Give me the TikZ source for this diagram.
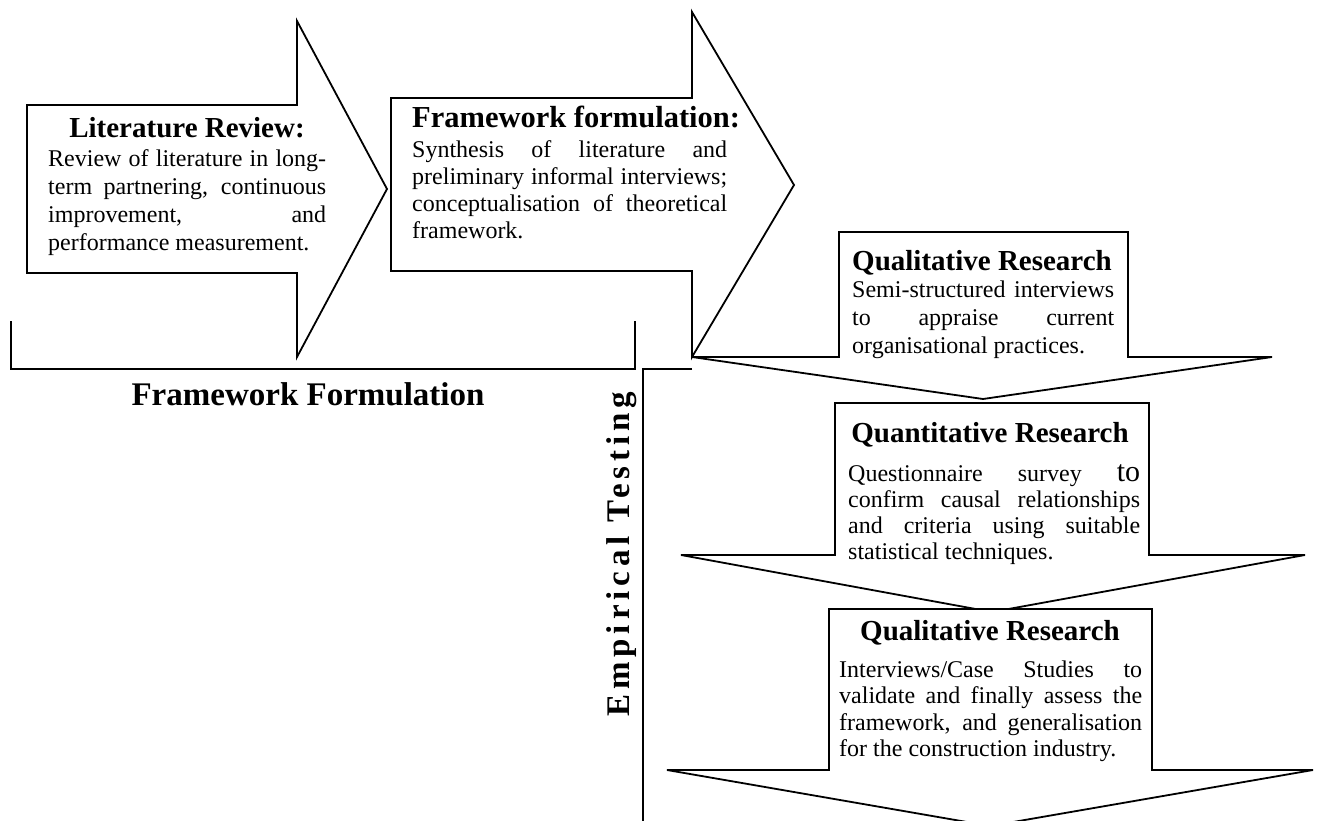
\documentclass[tikz,border=0pt]{standalone}
\usepackage{fontspec}
\setmainfont{Liberation Serif}
\newfontfamily\spacedfont[LetterSpace=15]{Liberation Serif}

% fonts used in the block arrows
\newcommand\titlefont{\fontsize{29}{31}\selectfont\bfseries}
\newcommand\bodyfont{\fontsize{24}{26}\selectfont}
% one justified line and one ragged (last) line of a paragraph
\newcommand\jline[2]{\makebox[#1][s]{#2}\par}
\newcommand\lastline[2]{\makebox[#1][l]{#2}\par}
% a paragraph of explicit lines, baseline = first line's baseline
\newcommand\para[3]{\vtop{\hsize=#1\parindent=0pt\bodyfont\baselineskip=#2\lineskiplimit=-20pt #3}}

\tikzset{
  blockarrow/.style={draw=black, fill=white, line width=1.8pt, line join=miter},
  bracket/.style={draw=black, line width=1.8pt},
  title/.style={inner sep=0pt, font=\titlefont, anchor=base},
  body/.style={inner sep=0pt, anchor=base west},
}

\begin{document}
\begin{tikzpicture}[x=1pt, y=-1pt]
\useasboundingbox (0,0) rectangle (1319,821);

% ---------- horizontal block arrows ----------
\draw[blockarrow] (27,105) -- (297,105) -- (297,21) -- (387,189) -- (297,357)
  -- (297,273) -- (27,273) -- cycle;
\draw[blockarrow] (391,98) -- (692,98) -- (692,12) -- (794,185) -- (692,357)
  -- (692,271) -- (391,271) -- cycle;

% ---------- bracket under the first phase ----------
\coordinate (ffa) at (11,321);
\coordinate (ffb) at (11,369);
\coordinate (ffc) at (635,369);
\coordinate (ffd) at (635,321);
\draw[bracket] (ffa) -- (ffb) -- (ffc) -- (ffd);
\node[inner sep=0pt, anchor=base, font=\fontsize{33}{35}\selectfont\bfseries]
  (fflabel) at (308,405) {Framework Formulation};

% ---------- bracket beside the second phase ----------
\coordinate (eta) at (692,369);
\coordinate (etb) at (643,369);
\coordinate (etc) at (643,830);
\draw[bracket] (eta) -- (etb) -- (etc);
\node[inner sep=0pt, anchor=base west, rotate=90,
      font=\fontsize{33}{35}\spacedfont\bfseries]
  (etlabel) at (629,717) {Empirical Testing};

% ---------- downward block arrows ----------
\draw[blockarrow] (839,232) -- (1128,232) -- (1128,357) -- (1272,357) -- (983,399)
  -- (692,357) -- (839,357) -- cycle;
\draw[blockarrow] (835,403) -- (1149,403) -- (1149,555) -- (1305,555) -- (992,612)
  -- (681,555) -- (835,555) -- cycle;
\draw[blockarrow] (829,609) -- (1152,609) -- (1152,770) -- (1313,770) -- (990,826)
  -- (667,770) -- (829,770) -- cycle;

% ---------- texts ----------
\node[title] (lrtitle) at (187,138) {Literature Review:};
\node[body] (lrbody) at (48,167) {\para{278pt}{27.7pt}{%
  \jline{278pt}{Review of literature in long-}%
  \jline{278pt}{term partnering, continuous}%
  \jline{278pt}{improvement, and}%
  \lastline{278pt}{performance measurement.}}};

\node[inner sep=0pt, anchor=base west, font=\fontsize{30.5}{32}\selectfont\bfseries]
  (fftitle) at (412,128) {Framework formulation:};
\node[body] (ffbody) at (412,158) {\para{315pt}{27pt}{%
  \jline{315pt}{Synthesis of literature and}%
  \jline{315pt}{preliminary informal interviews;}%
  \jline{315pt}{conceptualisation of theoretical}%
  \lastline{315pt}{framework.}}};

\node[title] (qltitle) at (982,270) {Qualitative Research};
\node[body] (qlbody) at (852,297) {\para{262pt}{28pt}{%
  \jline{262pt}{Semi-structured interviews}%
  \jline{262pt}{to appraise current}%
  \lastline{262pt}{organisational practices.}}};

\node[title] (qntitle) at (990,442) {Quantitative Research};
\node[body] (qnbody) at (848,481) {\para{292pt}{26pt}{%
  \jline{292pt}{Questionnaire survey {\fontsize{30}{30}\selectfont to}}%
  \jline{292pt}{confirm causal relationships}%
  \jline{292pt}{and criteria using suitable}%
  \lastline{292pt}{statistical techniques.}}};

\node[title] (vqtitle) at (990,640) {Qualitative Research};
\node[body] (vqbody) at (839,677) {\para{303pt}{26.6pt}{%
  \jline{303pt}{Interviews/Case Studies to}%
  \jline{303pt}{validate and finally assess the}%
  \jline{303pt}{framework, and generalisation}%
  \lastline{303pt}{for the construction industry.}}};
\end{tikzpicture}
\end{document}
